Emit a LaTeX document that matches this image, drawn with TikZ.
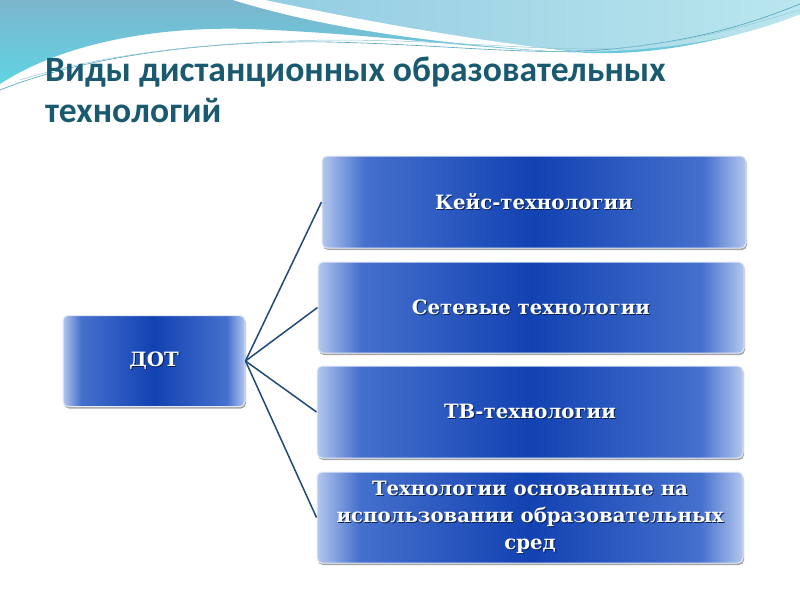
\documentclass[tikz,border=0pt]{standalone}
\usepackage{fontspec}
\usetikzlibrary{shadows}
\newfontfamily\titlefont{Carlito}
\newfontfamily\boxfont{DejaVu Serif}
\definecolor{titleteal}{HTML}{1A5A70}
\definecolor{boxdark}{HTML}{1242B2}
\definecolor{boxmid}{HTML}{4570CD}
\definecolor{boxlight}{HTML}{B3C7EE}
\definecolor{linkblue}{HTML}{1F4A78}
\definecolor{wavesteel}{HTML}{7DB5CD}
\definecolor{wavecyan}{HTML}{5FD4E3}
\definecolor{wavepale}{HTML}{93CCE2}
\definecolor{wavesky}{HTML}{BAE6EE}
\definecolor{waveline}{HTML}{4FA3BC}
\pgfdeclarehorizontalshading{boxshade}{100bp}{color(0bp)=(boxlight); color(25bp)=(boxlight); color(30bp)=(boxmid); color(50bp)=(boxdark); color(70bp)=(boxmid); color(75bp)=(boxlight); color(100bp)=(boxlight)}
\newcommand\shadowed[1]{\leavevmode\rlap{\raisebox{-1pt}{\kern1pt\textcolor{boxdark!50!black}{#1}}}#1}
\tikzset{
  techbox/.style={rounded corners=5pt, draw=white!85!boxmid, line width=1pt,
    shading=boxshade, drop shadow={shadow xshift=1pt, shadow yshift=-2pt, opacity=.35, fill=black},
    text=white, font=\boxfont\bfseries\fontsize{19.7}{27}\selectfont, align=center, inner sep=0pt},
  link/.style={draw=linkblue, line width=1.5pt}
}

\begin{document}
\begin{tikzpicture}[x=1pt, y=-1pt]
   \useasboundingbox (0,0) rectangle (800,600);
   \fill[white] (0,0) rectangle (800,600);
   \shade[top color=wavesteel, bottom color=wavecyan] (0,0) -- (800,0) -- (800,14)
      .. controls (730,40) and (660,55) .. (590,53)
      .. controls (480,50) and (380,34) .. (250,29)
      .. controls (150,26) and (60,45) .. (0,84) -- cycle;
   \shade[left color=wavepale, right color=wavesky] (265,0)
      .. controls (370,24) and (480,42) .. (585,52)
      .. controls (680,50) and (750,35) .. (800,14) -- (800,0) -- cycle;
   \fill[white] (233,0) .. controls (330,30) and (450,46) .. (585,53)
      .. controls (470,40) and (370,22) .. (265,0) -- cycle;
   \draw[waveline, line width=0.6pt] (0,90) .. controls (80,58) and (200,40) .. (330,42)
      .. controls (450,45) and (520,55) .. (600,50) .. controls (700,42) and (760,20) .. (800,4);
   \draw[waveline!60, line width=0.5pt] (20,80) .. controls (100,55) and (200,42) .. (330,40)
      .. controls (460,40) and (540,52) .. (620,48) .. controls (710,40) and (770,18) .. (800,10);

   \node[anchor=north west, inner sep=0pt, text=titleteal, align=left,
      font=\titlefont\bfseries\fontsize{35.6}{41}\selectfont] (title) at (45,57)
      {Виды дистанционных образовательных\\технологий};

   \node[techbox, minimum width=182, minimum height=91] (dot) at (154,361) {\shadowed{ДОТ}};
   \node[techbox, minimum width=424, minimum height=92] (keis) at (534,202) {\shadowed{Кейс-технологии}};
   \node[techbox, minimum width=426, minimum height=91] (seti) at (531,307.5) {\shadowed{Сетевые технологии}};
   \node[techbox, minimum width=426, minimum height=92] (tv) at (530,412) {\shadowed{ТВ-технологии}};
   \node[techbox, minimum width=426, minimum height=91] (sredy) at (530,517.5)
      {\shadowed{Технологии основанные на}\\\shadowed{использовании образовательных}\\\shadowed{сред}};

   \draw[link] (dot.east) -- (keis.west);
   \draw[link] (dot.east) -- (seti.west);
   \draw[link] (dot.east) -- (tv.west);
   \draw[link] (dot.east) -- (sredy.west);
\end{tikzpicture}
\end{document}
